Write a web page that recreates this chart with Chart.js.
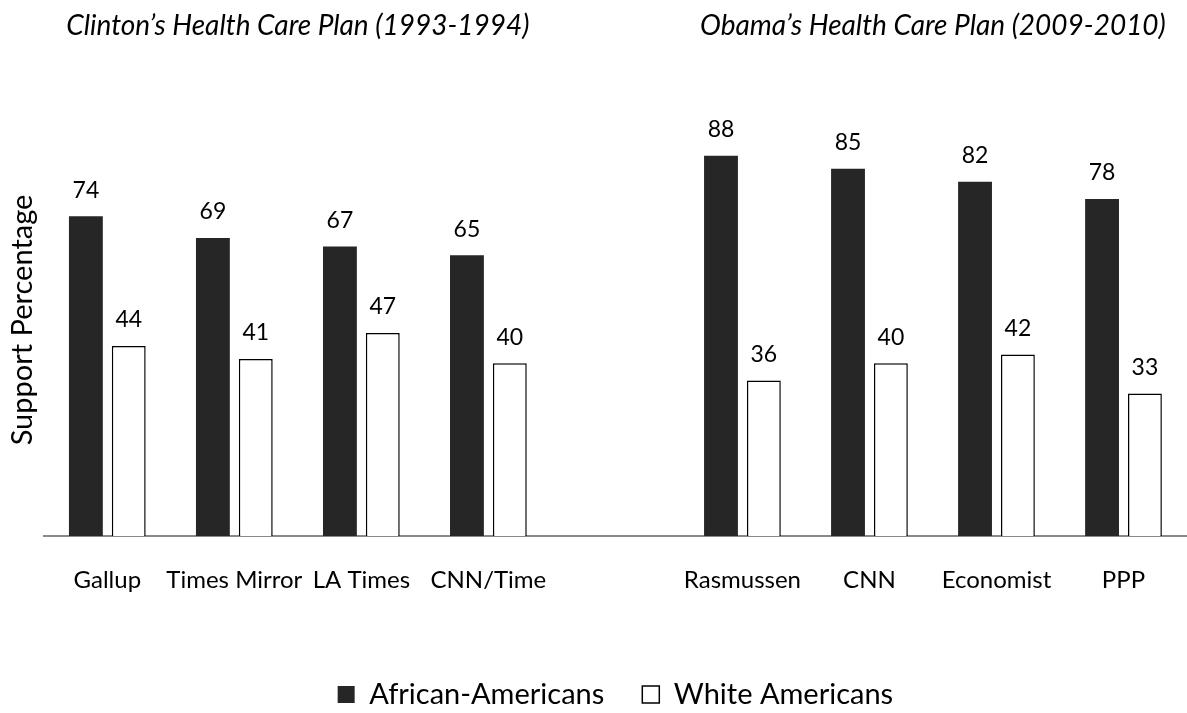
<!DOCTYPE html>
<html>
<head>
<meta charset="utf-8">
<title>Support for Health Care Plans</title>
<script src="https://cdn.jsdelivr.net/npm/chart.js@4.4.0/dist/chart.umd.min.js"></script>
<style>
    body { margin: 0; background: #fff; }
    #wrap { width: 1187px; height: 713px; }
</style>
</head>
<body>
<div id="wrap"><canvas id="myChart"></canvas></div>
<script>
// Poll names for each plan
const clintonPolls = ['Gallup', 'Times Mirror', 'LA Times', 'CNN/Time'];
const obamaPolls = ['Rasmussen', 'CNN', 'Economist', 'PPP'];

// Support percentages
const clintonAfrican = [74, 69, 67, 65];
const clintonWhite = [44, 41, 47, 40];
const obamaAfrican = [88, 85, 82, 78];
const obamaWhite = [36, 40, 42, 33];

const seriesNames = ['African-Americans', 'White Americans'];
const groupTitles = ['Clinton\u2019s Health Care Plan (1993-1994)', 'Obama\u2019s Health Care Plan (2009-2010)'];

// one empty slot between the two plans
const labels = [...clintonPolls, '', ...obamaPolls];
const africanData = [...clintonAfrican, null, ...obamaAfrican];
const whiteData = [...clintonWhite, null, ...obamaWhite];

Chart.defaults.font.family = 'Lato';
Chart.defaults.color = '#000';

// Values above the bars
const barLabels = {
    id: 'barLabels',
    afterDatasetsDraw(chart) {
        const ctx = chart.ctx;
        ctx.save();
        ctx.font = '23px Lato';
        ctx.fillStyle = '#000';
        ctx.textAlign = 'center';
        ctx.textBaseline = 'middle';
        chart.data.datasets.forEach((ds, i) => {
            chart.getDatasetMeta(i).data.forEach((bar, j) => {
                if (ds.data[j] == null) return;
                ctx.fillText(ds.data[j], bar.x, bar.y - 26);
            });
        });
        ctx.restore();
    }
};

// Italic headings over each group of polls
const groupHeadings = {
    id: 'groupHeadings',
    afterDraw(chart) {
        const ctx = chart.ctx;
        const x = chart.scales.x;
        const groups = [
            [0, clintonPolls.length - 1],
            [clintonPolls.length + 1, labels.length - 1]
        ];
        ctx.save();
        ctx.font = 'italic 28px Lato';
        ctx.fillStyle = '#000';
        ctx.textAlign = 'center';
        ctx.textBaseline = 'middle';
        groups.forEach((g, i) => {
            const mid = (x.getPixelForValue(g[0]) + x.getPixelForValue(g[1])) / 2;
            ctx.fillText(groupTitles[i], mid, 26);
        });
        ctx.restore();
    }
};

const ctx = document.getElementById('myChart');
const myChart = new Chart(ctx, {
    type: 'bar',
    data: {
        labels: labels,
        datasets: [
            {
                label: seriesNames[0],
                data: africanData,
                backgroundColor: '#262626',
                borderColor: '#262626',
                borderWidth: 0
            },
            {
                label: seriesNames[1],
                data: whiteData,
                backgroundColor: '#ffffff',
                borderColor: '#000000',
                borderWidth: 1.5
            }
        ]
    },
    options: {
        responsive: true,
        maintainAspectRatio: false,
        animation: false,
        categoryPercentage: 0.675,
        barPercentage: 0.79,
        layout: {
            padding: { top: 104, bottom: -6 }
        },
        scales: {
            x: {
                grid: { display: false, drawTicks: false },
                border: { color: '#898989', width: 2 },
                ticks: {
                    font: { size: 24 },
                    padding: 30,
                    maxRotation: 0,
                    autoSkip: false
                },
                afterFit: (scale) => { scale.height = 106; }
            },
            y: {
                min: 0,
                max: 100,
                grid: { display: false, drawTicks: false },
                border: { display: false },
                ticks: { display: false },
                title: {
                    display: true,
                    text: 'Support Percentage',
                    font: { size: 29 },
                    padding: { top: 5, bottom: 4 }
                }
            }
        },
        plugins: {
            legend: {
                position: 'bottom',
                fullSize: false,
                labels: {
                    boxWidth: 17,
                    boxHeight: 17,
                    padding: 38,
                    font: { size: 29 }
                }
            },
            tooltip: { enabled: false }
        }
    },
    plugins: [barLabels, groupHeadings]
});
</script>
</body>
</html>
